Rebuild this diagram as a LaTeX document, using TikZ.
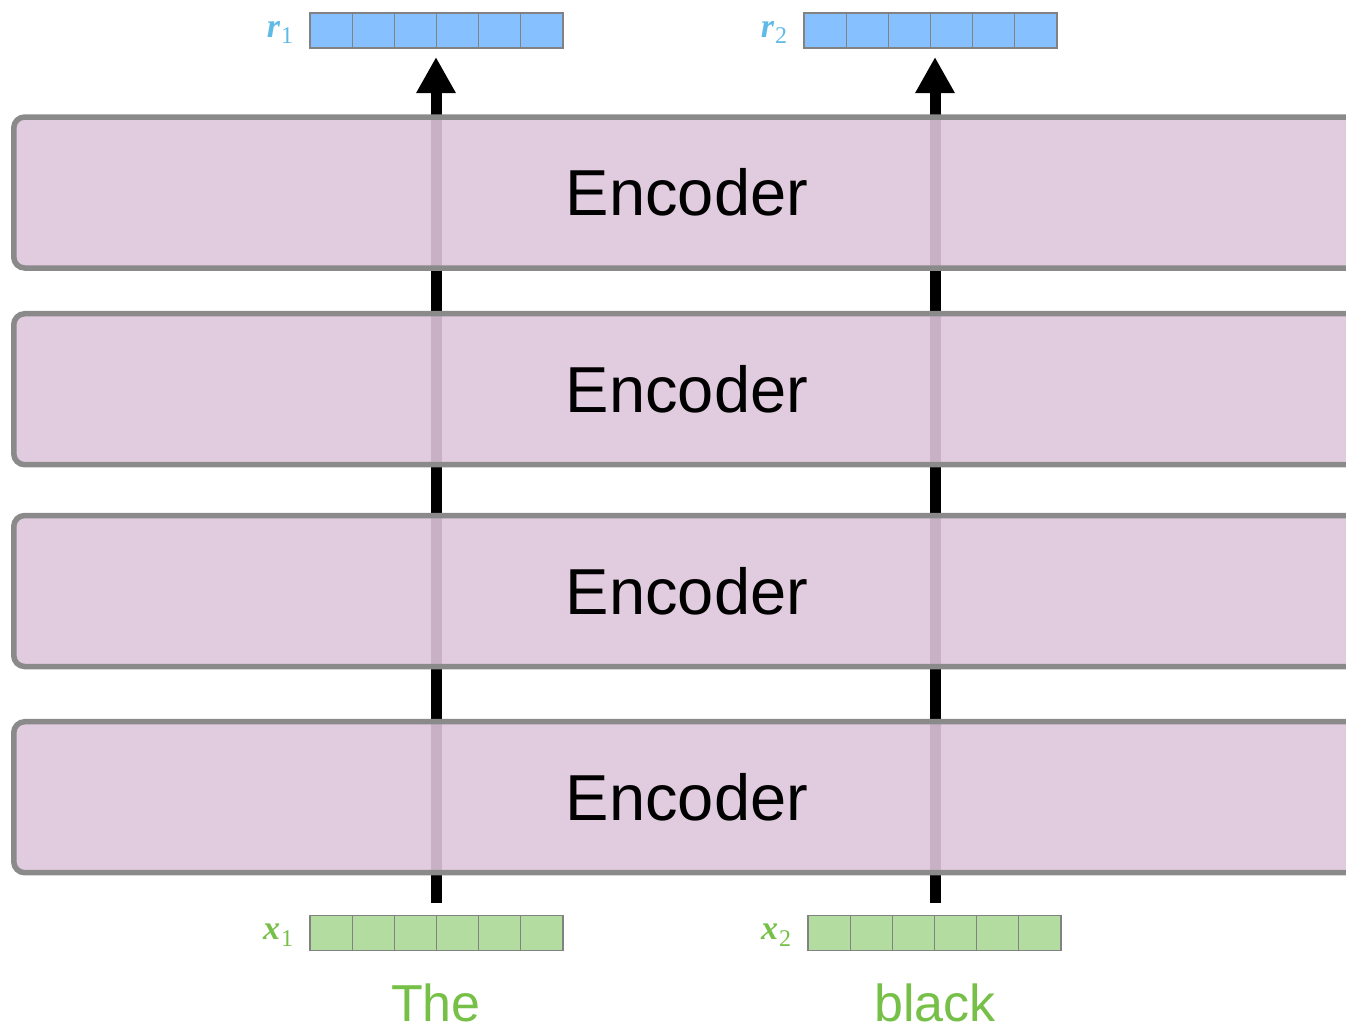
\documentclass[tikz,border=0pt]{standalone}
\usepackage{fontspec}
\setmainfont{Liberation Sans}
\newfontfamily\labelfont{Liberation Serif}
\usetikzlibrary{arrows.meta,calc,positioning}

\definecolor{encfill}{RGB}{222,197,219}
\definecolor{encline}{RGB}{138,138,138}
\definecolor{cellline}{RGB}{130,130,130}
\definecolor{outblue}{RGB}{135,192,255}
\definecolor{ingreen}{RGB}{179,220,160}
\definecolor{lblblue}{RGB}{95,186,232}
\definecolor{lblgreen}{RGB}{118,192,72}

% vector name: bold italic letter with an upright index
\newcommand{\vecname}[2]{{\labelfont\bfseries\itshape #1}\kern1pt\raisebox{-0.2em}{\fontsize{24}{26}\selectfont\labelfont #2}}

\tikzset{
  encbox/.style={draw=encline, line width=5.5pt, fill=encfill, fill opacity=0.9,
    text opacity=1, rounded corners=11pt, minimum width=1346.5pt,
    minimum height=151pt, inner sep=0pt, font=\fontsize{65}{70}\selectfont},
  vecbox/.style={draw=cellline, line width=1.3pt, minimum width=253pt,
    minimum height=35pt, inner sep=0pt,
    path picture={
      \foreach \i in {1,...,5}
        \draw[cellline, line width=1.3pt]
          ($(path picture bounding box.south west)!\i/6!(path picture bounding box.south east)$)
          -- ($(path picture bounding box.north west)!\i/6!(path picture bounding box.north east)$);
    }},
  outvec/.style={vecbox, fill=outblue},
  invec/.style={vecbox, fill=ingreen},
  veclabel/.style={font=\fontsize{34}{36}\selectfont, inner sep=0pt},
  word/.style={text=lblgreen, font=\fontsize{52}{56}\selectfont, inner sep=0pt,
    text depth=0pt, anchor=base},
  flow/.style={line width=11pt, -{Triangle[width=37pt,length=36pt]}},
}

\begin{document}
\begin{tikzpicture}[x=1pt,y=-1pt]
\useasboundingbox (0,0) rectangle (1346,1029);

% input and output vectors
\node[outvec] (r1) at (436.5,30.5) {};
\node[outvec] (r2) at (930.5,30.5) {};
\node[invec]  (x1) at (436.5,933) {};
\node[invec]  (x2) at (934.5,933) {};

\node[veclabel, text=lblblue, left=16pt of r1, yshift=-2pt] (r1l) {\vecname{r}{1}};
\node[veclabel, text=lblblue, left=16pt of r2, yshift=-2pt] (r2l) {\vecname{r}{2}};
\node[veclabel, text=lblgreen, left=16pt of x1, yshift=-2pt] (x1l) {\vecname{x}{1}};
\node[veclabel, text=lblgreen, left=16pt of x2, yshift=-2pt] (x2l) {\vecname{x}{2}};

% input words
\node[word] (w1) at (436,1021) {The};
\node[word] (w2) at (935,1021) {black};

% data flow through the stack
\coordinate (s1) at (436,903);
\coordinate (t1) at (436,57);
\coordinate (s2) at (935,903);
\coordinate (t2) at (935,57);
\draw[flow] (s1) -- (t1);
\draw[flow] (s2) -- (t2);

% encoder stack (translucent, so the flow shows through)
\node[encbox] (e1) at (687,192.5) {Encoder};
\node[encbox] (e2) at (687,389.2) {Encoder};
\node[encbox] (e3) at (687,591) {Encoder};
\node[encbox] (e4) at (687,797.2) {Encoder};
\end{tikzpicture}
\end{document}
